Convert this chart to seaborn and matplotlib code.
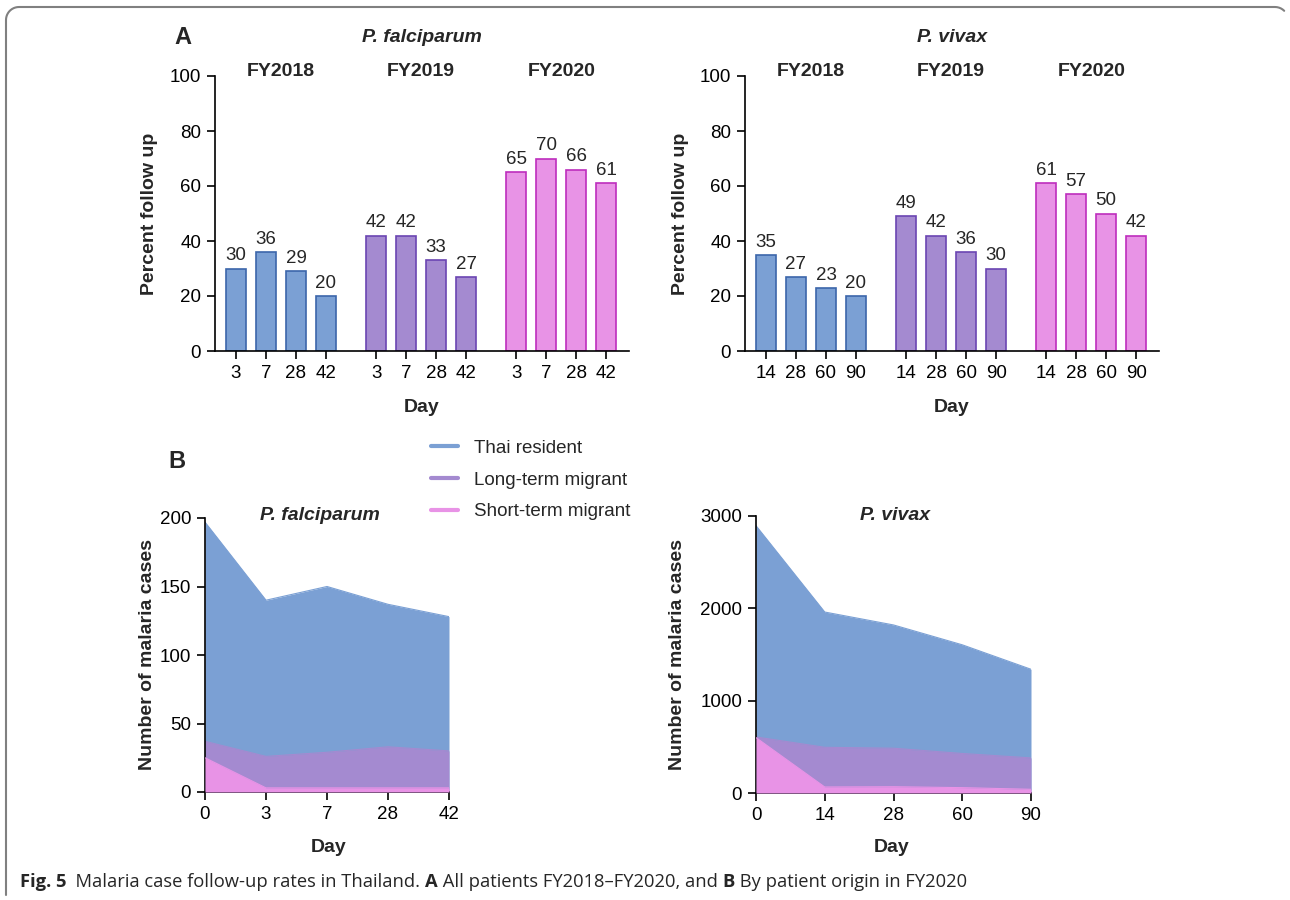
import numpy as np
import pandas as pd
import matplotlib
matplotlib.use("Agg")
import matplotlib.pyplot as plt
from matplotlib.lines import Line2D
import seaborn as sns

# --- Panel A data: percent follow up ---
years = ["FY2018", "FY2019", "FY2020"]
pf_days = ["3", "7", "28", "42"]
pf_pct = {
    "FY2018": [30, 36, 29, 20],
    "FY2019": [42, 42, 33, 27],
    "FY2020": [65, 70, 66, 61],
}
pv_days = ["14", "28", "60", "90"]
pv_pct = {
    "FY2018": [35, 27, 23, 20],
    "FY2019": [49, 42, 36, 30],
    "FY2020": [61, 57, 50, 42],
}

# --- Panel B data: number of malaria cases FY2020 ---
origins = ["Thai resident", "Long-term migrant", "Short-term migrant"]
pf_b_days = ["0", "3", "7", "28", "42"]
pf_cases = {
    "Thai resident": [197, 140, 150, 137, 128],
    "Long-term migrant": [37, 26, 29, 33, 30],
    "Short-term migrant": [25, 3, 3, 3, 3],
}
pv_b_days = ["0", "14", "28", "60", "90"]
pv_cases = {
    "Thai resident": [2895, 1960, 1820, 1605, 1340],
    "Long-term migrant": [607, 495, 485, 428, 380],
    "Short-term migrant": [600, 65, 68, 58, 40],
}

fills = ["#7ba0d4", "#a48ad0", "#e893e6"]
edges = ["#3c66aa", "#6b45b2", "#bd2dbd"]

sns.set_theme(style="ticks")
plt.rcParams["font.family"] = ["Liberation Sans", "DejaVu Sans"]
plt.rcParams["axes.linewidth"] = 1.2
plt.rcParams["xtick.major.width"] = 1.2
plt.rcParams["ytick.major.width"] = 1.2
plt.rcParams["xtick.major.size"] = 6
plt.rcParams["ytick.major.size"] = 6
plt.rcParams["xtick.color"] = "black"
plt.rcParams["ytick.color"] = "black"
plt.rcParams["axes.edgecolor"] = "black"

W, H = 1290, 900
fig = plt.figure(figsize=(W / 100, H / 100), dpi=100)


def fx(px):
    return px / W


def fy(py):
    return 1 - py / H


def add_ax(x0, x1, y0, y1):
    return fig.add_axes([fx(x0), fy(y1), fx(x1 - x0), (y1 - y0) / H])


FS = 13.5
BFS = 14
group_step = 4.67


def bar_panel(ax, days, pct):
    ticks, labels = [], []
    for g, yr in enumerate(years):
        pos = np.arange(len(days)) + g * group_step
        df = pd.DataFrame({"pos": pos, "pct": pct[yr]})
        sns.barplot(data=df, x="pos", y="pct", native_scale=True, width=0.667,
                    color=fills[g], saturation=1, edgecolor=edges[g],
                    linewidth=1.2, ax=ax, errorbar=None)
        ax.bar_label(ax.containers[-1], labels=[str(v) for v in pct[yr]],
                     padding=3, fontsize=FS)
        ticks += list(pos)
        labels += days
        ax.text(pos.mean(), 101.8, yr, ha="center", va="center",
                fontsize=BFS, fontweight="bold", clip_on=False)
    ax.set_xlim(-0.7, 13.1)
    ax.set_ylim(0, 100)
    ax.set_yticks([0, 20, 40, 60, 80, 100])
    ax.set_xticks(ticks)
    ax.set_xticklabels(labels)
    ax.tick_params(labelsize=FS, pad=4)
    ax.set_xlabel("")
    ax.set_ylabel("")
    sns.despine(ax=ax)


def area_panel(ax, days, cases, ymax, yticks):
    x = np.arange(len(days))
    for i, o in enumerate(origins):
        ax.fill_between(x, 0, cases[o], color=fills[i], lw=0, zorder=1 + i)
        sns.lineplot(x=x, y=cases[o], color=fills[i], lw=0.8, ax=ax,
                     zorder=1 + i)
    ax.set_xlim(0, len(days) - 1)
    ax.set_ylim(0, ymax)
    ax.set_yticks(yticks)
    ax.set_xticks(x)
    ax.set_xticklabels(days)
    ax.tick_params(labelsize=FS, pad=4)
    ax.set_xlabel("")
    ax.set_ylabel("")
    sns.despine(ax=ax)


# Panel A
axA1 = add_ax(215, 629, 76, 351)
bar_panel(axA1, pf_days, pf_pct)
axA2 = add_ax(745, 1159, 76, 351)
bar_panel(axA2, pv_days, pv_pct)

# Panel B
axB1 = add_ax(205, 449, 518, 792)
area_panel(axB1, pf_b_days, pf_cases, 200, [0, 50, 100, 150, 200])
axB2 = add_ax(756, 1031, 516, 793)
area_panel(axB2, pv_b_days, pv_cases, 3000, [0, 1000, 2000, 3000])

# Text labels
bold = dict(fontsize=BFS, fontweight="bold", ha="center", va="center")
fig.text(fx(183), fy(38), "A", fontsize=17, fontweight="bold", ha="center", va="center")
fig.text(fx(177), fy(462), "B", fontsize=17, fontweight="bold", ha="center", va="center")
fig.text(fx(422), fy(38), "P. falciparum", style="italic", **bold)
fig.text(fx(952), fy(38), "P. vivax", style="italic", **bold)
fig.text(fx(320), fy(515), "P. falciparum", style="italic", **bold)
fig.text(fx(895), fy(515), "P. vivax", style="italic", **bold)
fig.text(fx(150), fy(214), "Percent follow up", rotation=90, **bold)
fig.text(fx(680), fy(214), "Percent follow up", rotation=90, **bold)
fig.text(fx(147), fy(655), "Number of malaria cases", rotation=90, **bold)
fig.text(fx(678), fy(655), "Number of malaria cases", rotation=90, **bold)
fig.text(fx(422), fy(407), "Day", **bold)
fig.text(fx(952), fy(407), "Day", **bold)
fig.text(fx(329), fy(848), "Day", **bold)
fig.text(fx(892), fy(848), "Day", **bold)

# Legend
handles = [Line2D([], [], color=c, lw=3) for c in fills]
fig.legend(handles, origins, loc="center left",
           bbox_to_anchor=(fx(414), fy(480)), frameon=False, fontsize=FS,
           handlelength=1.45, handletextpad=0.85, labelspacing=0.78)

# Frame around the figure (left and top edges, rounded corners)
r = 13
a1 = np.linspace(np.pi, np.pi / 2, 12)
a2 = np.linspace(np.pi / 2, np.pi / 4, 6)
frame_x = [6, 6] + list(6 + r + r * np.cos(a1)) + list(1275 + r * np.cos(a2))
frame_y = [895, 20] + list(7 + r - r * np.sin(a1)) + list(7 + r - r * np.sin(a2))
fig.add_artist(Line2D([fx(v) for v in frame_x], [fy(v) for v in frame_y],
                      color="#808080", lw=1.5, transform=fig.transFigure))

# Caption
renderer = fig.canvas.get_renderer()
pieces = [("Fig. 5", "bold"), ("  Malaria case follow-up rates in Thailand. ", "normal"),
          ("A", "bold"), (" All patients FY2018\u2013FY2020, and ", "normal"),
          ("B", "bold"), (" By patient origin in FY2020", "normal")]
xpos = 20
for txt, wt in pieces:
    t = fig.text(fx(xpos), fy(882), txt, fontsize=13.2, fontweight=wt,
                 family=["Open Sans", "DejaVu Sans"], ha="left", va="center")
    bb = t.get_window_extent(renderer)
    xpos += bb.width

fig.savefig("out.png", dpi=100)
